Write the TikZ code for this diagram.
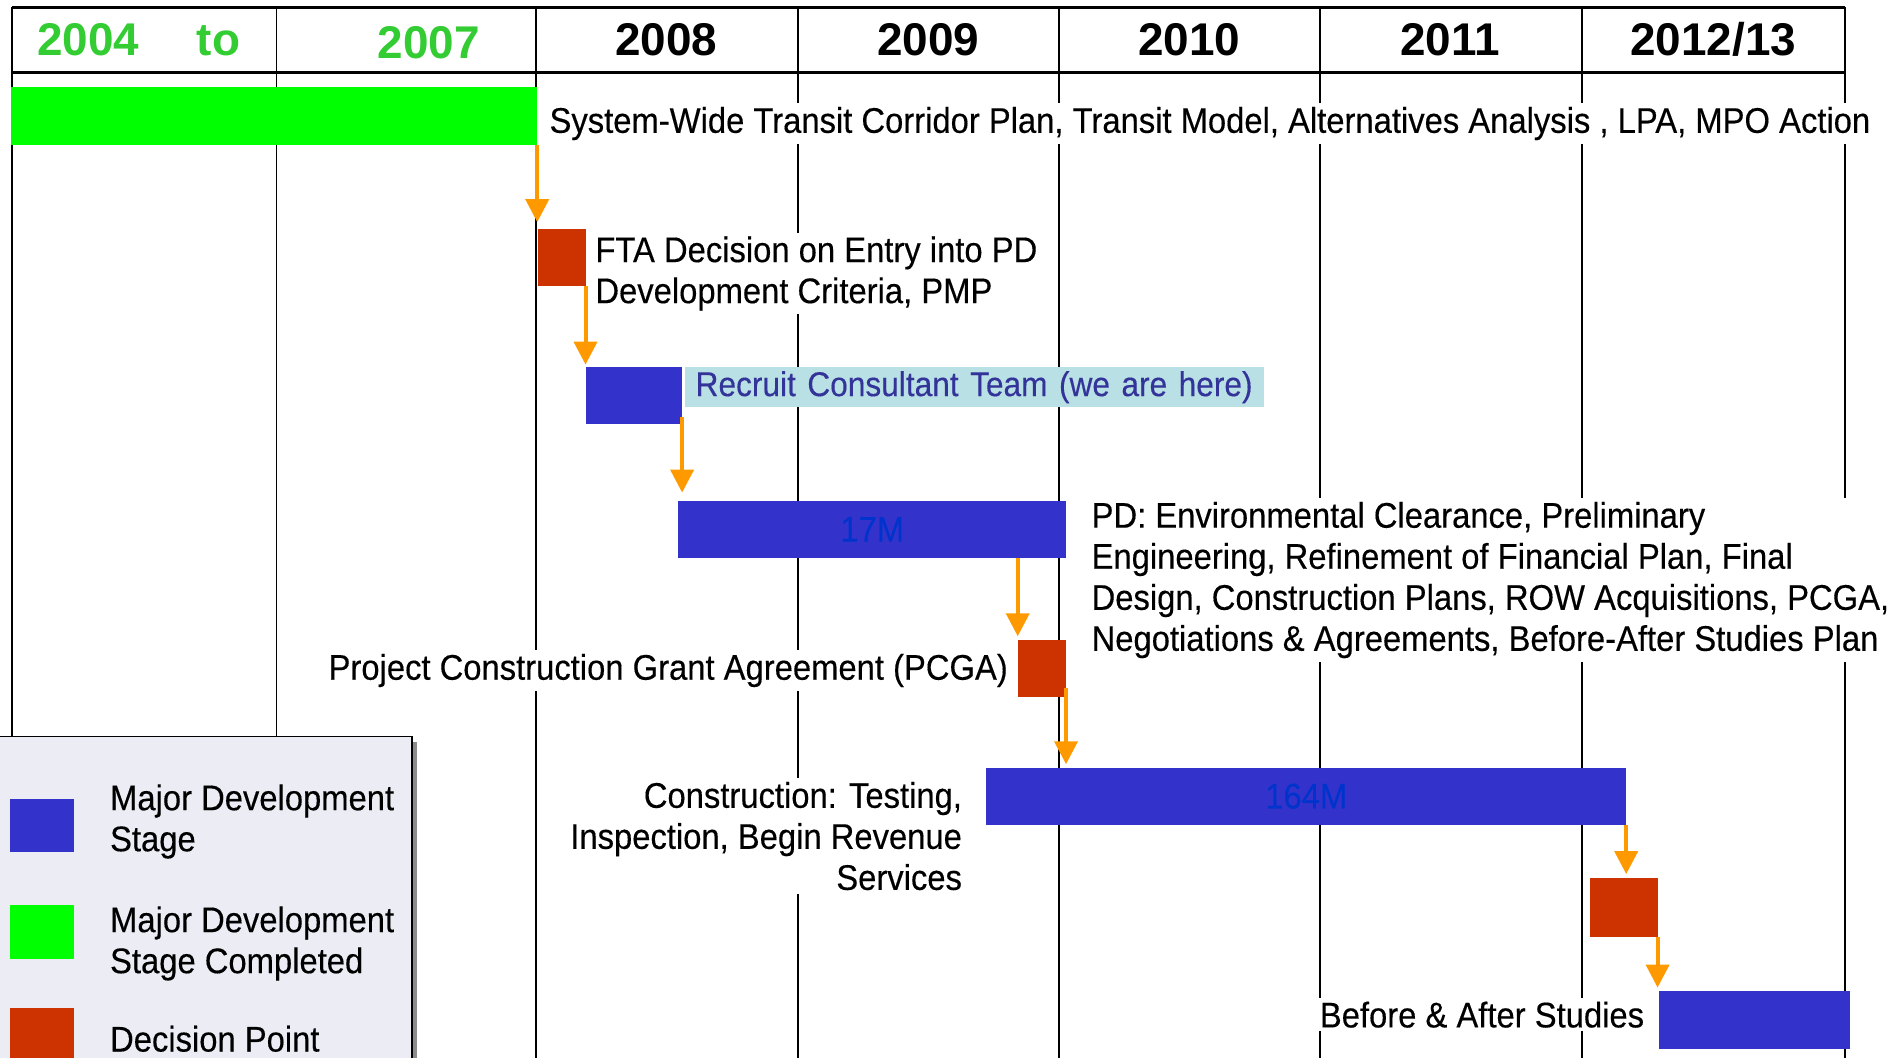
\documentclass[tikz,border=0pt]{standalone}
\usepackage{fontspec}
\setmainfont{Liberation Sans}[FakeStretch=0.92, FakeBold=0.3]
\newfontfamily\hdrfont{Liberation Sans}
\usetikzlibrary{arrows.meta,calc}
\definecolor{mgreen}{HTML}{00FF00}
\definecolor{mblue}{HTML}{3333CC}
\definecolor{mred}{HTML}{CC3300}
\definecolor{morange}{HTML}{FF9900}
\definecolor{ygreen}{HTML}{33CC33}
\definecolor{lcyan}{HTML}{B9E0E4}
\definecolor{ltext}{HTML}{333399}
\definecolor{mtext}{HTML}{0033CC}
\definecolor{legfill}{HTML}{ECECF5}
\begin{document}
\begin{tikzpicture}[x=1pt,y=-1pt,
  bar/.style={draw=none, anchor=north west, inner sep=0pt, outer sep=0pt},
  arr/.style={draw=morange, line width=3.3pt, -{Triangle[width=19pt,length=19pt,fill=morange]}},
  gridline/.style={line width=1.6pt},
  framel/.style={line width=2.2pt},
  bodyfont/.style={font=\fontsize{29.5}{34}\selectfont},
  lbl/.style={bodyfont, fill=white, inner sep=3pt, align=left},
  yr/.style={font=\hdrfont\bfseries\fontsize{38}{40}\selectfont, anchor=base, inner sep=0pt},
]
\useasboundingbox (0,0) rectangle (1568,876);
\clip (0,0) rectangle (1568,876);

% grid
\foreach \x in {10,229,444,661,877,1093,1310,1528}
  \draw[gridline] (\x,6) -- (\x,876);
\draw[framel] (10,6) -- (1528,6);
\draw[framel] (10,60) -- (1528,60);

% header years
\node[yr, text=ygreen] (y04) at (73,46) {2004};
\node[yr, text=ygreen] (yto) at (181,46) {to};
\node[yr, text=ygreen] (y07) at (355,48.5) {2007};
\node[yr] (y08) at (552,46) {2008};
\node[yr] (y09) at (769,46) {2009};
\node[yr] (y10) at (985,46) {2010};
\node[yr] (y11) at (1201,46) {2011};
\node[yr] (y12) at (1419,46) {2012/13};

% legend
\fill[gray!90] (4,615) rectangle (345.5,880);
\draw[fill=legfill, line width=1.5pt] (-2,610) rectangle (341,880);
\node[bar, fill=mblue, minimum width=53pt, minimum height=44pt] (lg1) at (8,662) {};
\node[bar, fill=mgreen, minimum width=53pt, minimum height=44pt] (lg2) at (8,750) {};
\node[bar, fill=mred, minimum width=53pt, minimum height=46pt] (lg3) at (8,835) {};
\node[bodyfont, anchor=north west, inner sep=0pt, align=left] (lt1) at (91,649.5) {Major Development\\Stage};
\node[bodyfont, anchor=north west, inner sep=0pt, align=left] (lt2) at (91,750.5) {Major Development\\Stage Completed};
\node[bodyfont, anchor=base west, inner sep=0pt] (lt3) at (91,871) {Decision Point};

% text labels
\node[lbl, anchor=base west] (t1) at (452,110) {System-Wide Transit Corridor Plan, Transit Model, Alternatives Analysis , LPA, MPO Action};
\node[lbl, anchor=north west, minimum height=66pt] (t2) at (490,192.5) {FTA Decision on Entry into PD\\Development Criteria, PMP};
\node[fill=lcyan, text=ltext, anchor=north west, inner xsep=9pt, inner ysep=0pt,
      text width=462pt, align=left, minimum height=33pt,
      font=\fontsize{28.5}{33}\selectfont] (t3) at (567,304) {\mbox{Recruit Consultant Team (we are here)}};
\node[lbl, anchor=north west] (t4) at (901,412.5) {PD: Environmental Clearance, Preliminary\\Engineering, Refinement of Financial Plan, Final\\Design, Construction Plans, ROW Acquisitions, PCGA,\\Negotiations \& Agreements, Before-After Studies Plan};
\node[lbl, anchor=base east] (t5) at (838,563) {Project Construction Grant Agreement (PCGA)};
\node[lbl, anchor=north east, align=right] (t6) at (800,644.5) {Construction: Testing,\\Inspection, Begin Revenue\\Services};
\node[lbl, anchor=base east] (t7) at (1365,851) {Before \& After Studies};

% bars and decision points
\node[bar, fill=mgreen, minimum width=436pt, minimum height=48pt] (g1) at (9,72) {};
\node[bar, fill=mred, minimum width=39pt, minimum height=47pt] (r1) at (446,190) {};
\node[bar, fill=mblue, minimum width=80pt, minimum height=47pt] (b2) at (485,304) {};
\node[bar, fill=mblue, minimum width=321pt, minimum height=47pt, bodyfont, text=mtext] (b3) at (562,415) {17M};
\node[bar, fill=mred, minimum width=40pt, minimum height=47pt] (r4) at (843,530) {};
\node[bar, fill=mblue, minimum width=530pt, minimum height=47pt, bodyfont, text=mtext] (b5) at (817,636) {164M};
\node[bar, fill=mred, minimum width=56pt, minimum height=49pt] (r6) at (1317,727) {};
\node[bar, fill=mblue, minimum width=158pt, minimum height=48pt] (b7) at (1374,821) {};

% arrows
\draw[arr, shorten >=6pt] (g1.south east) -- (g1.south east |- r1.north);
\draw[arr, shorten >=2pt] (r1.south east) -- (r1.south east |- b2.north);
\draw[arr, shorten >=7pt] ($(b2.south east)+(0,-6)$) -- (b2.south east |- b3.north);
\draw[arr, shorten >=3pt] (r4.north west |- b3.south) -- (r4.north west);
\draw[arr, shorten >=3pt] ($(r4.south east)+(0,-7)$) -- (r4.south east |- b5.north);
\draw[arr, shorten >=3pt] (b5.south east) -- (b5.south east |- r6.north);
\draw[arr, shorten >=3pt] (r6.south east) -- (r6.south east |- b7.north);
\end{tikzpicture}
\end{document}
